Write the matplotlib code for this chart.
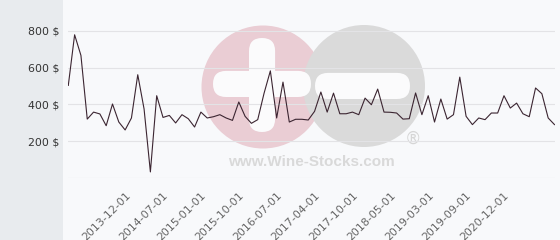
import numpy as np
import matplotlib
matplotlib.use("Agg")
import matplotlib.pyplot as plt
from matplotlib.patches import Circle, FancyBboxPatch, Rectangle
from matplotlib.transforms import IdentityTransform

# price per bottle, one value per listing (categorical x axis)
prices = [
    503, 778, 666, 320, 358, 348, 284, 402, 304, 261,
    326, 561, 375, 33, 447, 329, 340, 299, 344, 322,
    277, 358, 326, 333, 344, 326, 313, 413, 335, 297,
    317, 460, 582, 326, 521, 304, 319, 319, 315, 362,
    467, 358, 461, 349, 349, 358, 344, 434, 398, 483,
    358, 357, 353, 320, 322, 462, 344, 447, 304, 429,
    320, 344, 548, 335, 290, 326, 317, 353, 353, 447,
    380, 407, 349, 333, 489, 458, 326, 290,
]
date_labels = [
    "2013-12-01", "2014-07-01", "2015-01-01", "2015-10-01", "2016-07-01",
    "2017-04-01", "2017-10-01", "2018-05-01", "2019-03-01", "2019-09-01",
    "2020-12-01",
]
y_ticks = [200, 400, 600, 800]
label_start, label_step = 9, 6

W, H = 560, 240
fig = plt.figure(figsize=(W / 100, H / 100), dpi=100, facecolor="#f8f9fb")

# figure-pixel helper (origin top-left like the screenshot)
px = IdentityTransform()


def fy(y):
    return H - y


def pill(x0, y0, w, h, r=13):
    # rounded bar, given as screenshot box (left, top, width, height)
    return FancyBboxPatch((x0 + r, fy(y0 + h) + r), max(w - 2 * r, 0.1), max(h - 2 * r, 0.1),
                          boxstyle=f"round,pad={r}", transform=px,
                          facecolor="#fbfbfc", edgecolor="none", zorder=-1)


# grey left panel
fig.patches.append(Rectangle((0, 0), 63, H, transform=px, facecolor="#e8ebee",
                             edgecolor="none", zorder=-3))

# watermark
fig.patches.append(Circle((263, fy(87)), 61.5, transform=px, facecolor="#eacdd4",
                          edgecolor="none", zorder=-2))
fig.patches.append(Circle((364, fy(86)), 61, transform=px, facecolor="#dadada",
                          edgecolor="none", zorder=-2))
fig.patches.append(pill(213, 71, 98, 26))
fig.patches.append(pill(249, 38, 26, 94))
fig.patches.append(pill(315, 73, 95, 26))
fig.text(311 / W, 1 - 162 / H, "www.Wine-Stocks.com", ha="center", va="center",
         fontsize=11, fontweight="bold", family="Liberation Sans", color="#d9d9d9",
         zorder=-1)
fig.text(413 / W, 1 - 139 / H, "®", ha="center", va="center", fontsize=12,
         family="DejaVu Sans", color="#d6d6d6", zorder=-1)

ax = fig.add_axes([68.3 / W, (H - 178) / H, (554.5 - 68.3) / W, 178 / H])
ax.set_facecolor("none")

x = np.arange(len(prices))
ax.plot(x, prices, color="#3b2531", lw=0.8, zorder=3)

ax.set_xlim(0, len(prices) - 1)
ax.set_ylim(0, 967)
ax.set_yticks(y_ticks)
ax.set_yticklabels([f"{v} $" for v in y_ticks], fontsize=7.9, color="#333333")
ax.set_xticks(range(label_start, label_start + label_step * len(date_labels), label_step))
ax.set_xticklabels(date_labels, rotation=45, ha="right", rotation_mode="anchor",
                   fontsize=7.9, color="#666666")
ax.tick_params(axis="y", length=0, pad=6.5)
ax.tick_params(axis="x", length=0, pad=9)

for v in [0] + y_ticks:
    ax.axhline(v, color="#e3e3e6", lw=0.8, zorder=1)
for s in ax.spines.values():
    s.set_visible(False)

fig.savefig("out.png", dpi=100, facecolor=fig.get_facecolor())
